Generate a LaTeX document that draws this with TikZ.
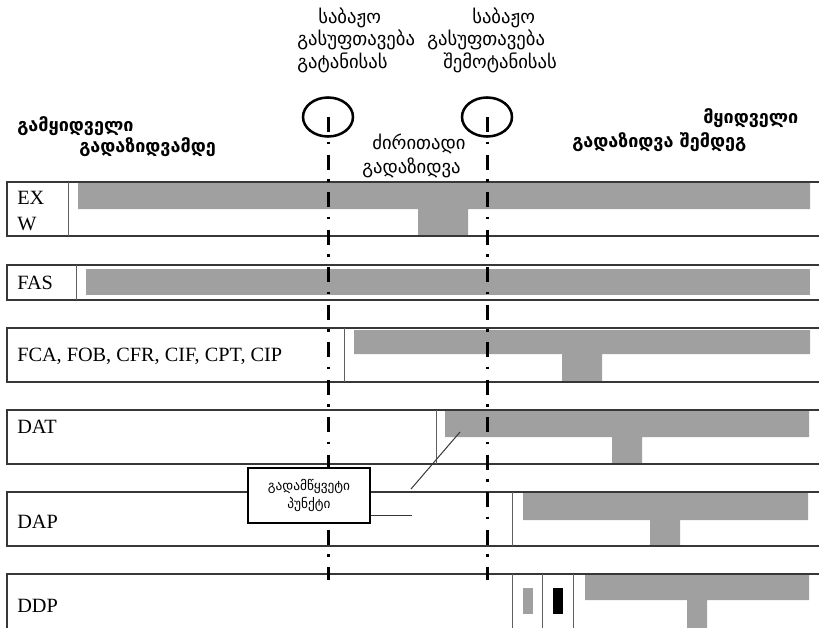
\documentclass[tikz,border=0pt]{standalone}
\usepackage{fontspec}
\setmainfont{Liberation Serif}
\newfontfamily\geo{DejaVu Sans}
\usetikzlibrary{shapes.geometric}
\definecolor{barg}{RGB}{160,160,160}
\definecolor{rowc}{RGB}{55,55,55}
\definecolor{divc}{RGB}{95,95,95}
\begin{document}
\begin{tikzpicture}[x=0.75pt,y=-0.75pt,
  rowl/.style={draw=rowc,line width=0.8pt},
  divl/.style={draw=divc,line width=0.7pt},
  barf/.style={fill=barg},
  ddash/.style={line width=2.25pt,dash pattern=on 11.25pt off 7.125pt on 1.875pt off 7.875pt},
  ring/.style={draw,ellipse,line width=1.9pt,minimum width=37.5pt,minimum height=29.25pt,inner sep=0},
  lat/.style={inner sep=0,anchor=base west,align=left,font=\fontsize{15.2}{19.5}\selectfont},
  geor/.style={inner sep=0,anchor=base west,align=left},
  callout/.style={draw,line width=1.1pt,fill=white,minimum width=91.5pt,minimum height=41.25pt,inner sep=0,align=center,font=\geo\fontsize{10}{13.5}\selectfont},
  lead/.style={draw=rowc,line width=0.75pt}
  ]
\useasboundingbox (0,0) rectangle (819,628);
% bars
\fill[barf] (78,183) rectangle (810,209) (418,209) rectangle (468,236);
\fill[barf] (86,269) rectangle (810,295);
\fill[barf] (354,330) rectangle (810,354) (562,354) rectangle (602,382);
\fill[barf] (445,411) rectangle (809,437) (612,437) rectangle (642,464);
\fill[barf] (523,493) rectangle (808,520) (650,520) rectangle (680,546);
\fill[barf] (585,575) rectangle (809,600) (687,600) rectangle (707,628);
\fill[barf] (523,588) rectangle (533,614);
\fill[black] (553,588) rectangle (563,614);
% rows
\draw[rowl] (819,182) -- (7,182) -- (7,236) -- (819,236);
\draw[rowl] (819,265) -- (7,265) -- (7,300) -- (819,300);
\draw[rowl] (819,328) -- (7,328) -- (7,382) -- (819,382);
\draw[rowl] (819,410) -- (7,410) -- (7,464) -- (819,464);
\draw[rowl] (819,492) -- (7,492) -- (7,546) -- (819,546);
\draw[rowl] (819,574) -- (7,574) -- (7,628);
\draw[divl] (68,182) -- (68,236);
\draw[divl] (76,265) -- (76,300);
\draw[divl] (344,328) -- (344,382);
\draw[divl] (436,410) -- (436,464);
\draw[divl] (512,492) -- (512,546);
\draw[divl] (512,574) -- (512,628);
\draw[divl] (542,574) -- (542,628);
\draw[divl] (573,574) -- (573,628);
% row labels
\node[lat] (exw) at (17,230) {EX\\W};
\node[lat] (fas) at (17,289) {FAS};
\node[lat] (fca) at (17,361) {FCA, FOB, CFR, CIF, CPT, CIP};
\node[lat] (dat) at (17,433) {DAT};
\node[lat] (dap) at (17,528) {DAP};
\node[lat] (ddp) at (17,612) {DDP};
% circles and dash-dot lines
\node[ring] (c1) at (328,117) {};
\node[ring] (c2) at (487,117) {};
\coordinate (e1) at (328,580);
\coordinate (e2) at (487,580);
\draw[ddash] (c1.center) -- (c1.center |- e1);
\draw[ddash] (c2.center) -- (c2.center |- e2);
% callout
\node[callout] (cb) at (309,495.5) {გადამწყვეტი\\პუნქტი};
\coordinate (h1) at (412,515);
\draw[lead] (cb.east |- h1) -- (h1);
\coordinate (p1) at (411,489);
\coordinate (p2) at (460,432);
\draw[lead] (p1) -- (p2);
% top labels
\node[geor,font=\geo\fontsize{14}{17.25}\selectfont] (t1) at (297,69)
  {\hspace*{15.75pt}საბაჟო\\გასუფთავება\\გატანისას};
\node[geor,font=\geo\fontsize{14}{17.25}\selectfont] (t2) at (427,69)
  {\hspace*{33.75pt}საბაჟო\\გასუფთავება\\\hspace*{12pt}შემოტანისას};
\node[geor,font=\geo\bfseries\fontsize{13.5}{14.25}\selectfont] (s1) at (17,152)
  {გამყიდველი\\\hspace*{46.5pt}გადაზიდვამდე};
\node[geor,font=\geo\fontsize{14}{18}\selectfont] (m1) at (362,173)
  {\hspace*{7.5pt}ძირითადი\\გადაზიდვა};
\node[geor,font=\geo\bfseries\fontsize{13.5}{18}\selectfont] (b1) at (572,147)
  {\hspace*{98.25pt}მყიდველი\\გადაზიდვა შემდეგ};
\end{tikzpicture}
\end{document}
